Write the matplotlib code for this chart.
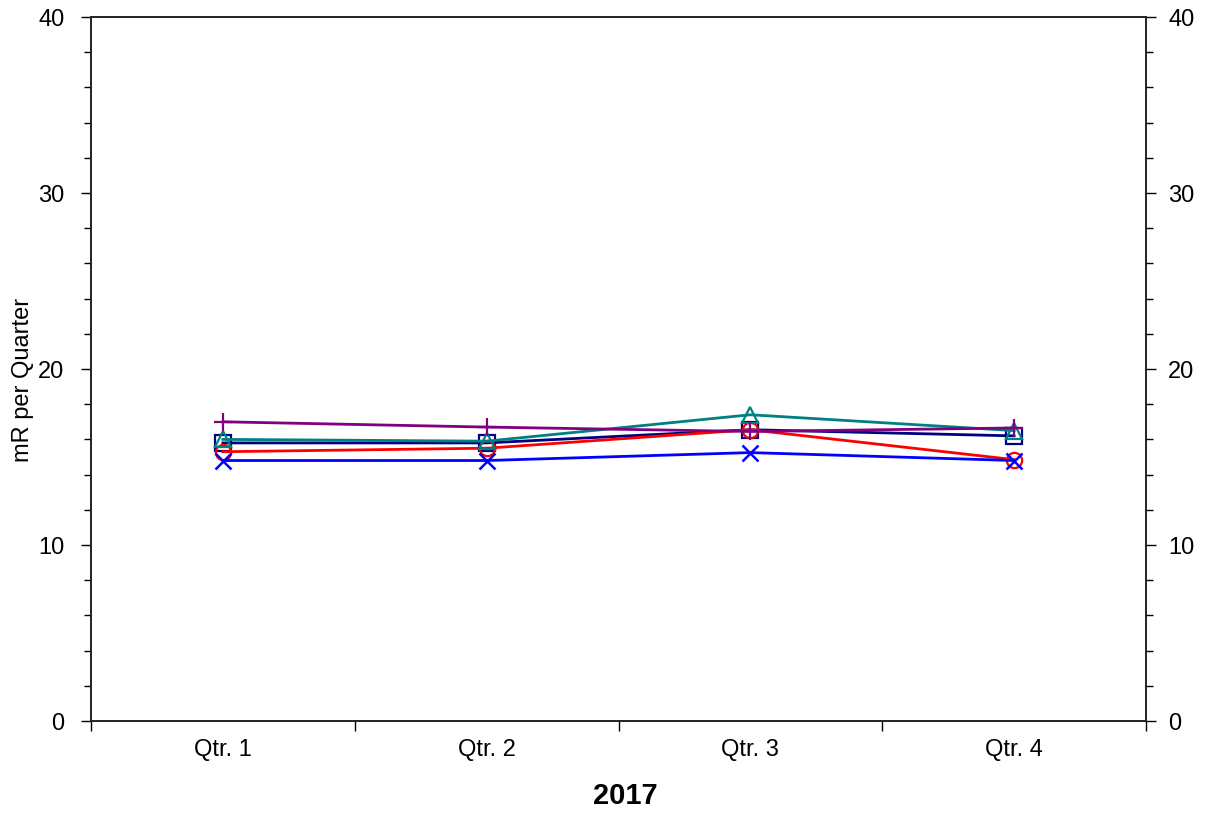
import matplotlib
matplotlib.use("Agg")
import matplotlib.pyplot as plt
from matplotlib.ticker import MultipleLocator, FixedLocator

plt.rcParams['font.family'] = ['Liberation Sans', 'DejaVu Sans']

categories = ["Qtr. 1", "Qtr. 2", "Qtr. 3", "Qtr. 4"]
navy_sq = [15.8, 15.8, 16.55, 16.2]
red_circ = [15.3, 15.5, 16.55, 14.85]
teal_tri = [16.0, 15.9, 17.4, 16.5]
blue_x = [14.8, 14.8, 15.25, 14.8]
purple_plus = [17.0, 16.7, 16.45, 16.65]
xlabel = "2017"
ylabel = "mR per Quarter"

fig = plt.figure(figsize=(12.06, 8.14), dpi=100)
ax = fig.add_axes([91/1206, 1 - 721/814, (1146-91)/1206, (721-17)/814])

x = list(range(len(categories)))
ax.plot(x, navy_sq, color='#000080', lw=2, marker='s', ms=11, mfc='none', mew=1.6, zorder=3)
ax.plot(x, red_circ, color='#ff0000', lw=2, marker='o', ms=11, mfc='none', mew=1.6, zorder=3)
ax.plot(x, teal_tri, color='#008080', lw=2, marker='^', ms=12, mfc='none', mew=1.6, zorder=3)
ax.plot(x, blue_x, color='#0000ff', lw=2, marker='x', ms=11, mew=1.8, zorder=3)
ax.plot(x, purple_plus, color='#800080', lw=2, marker='+', ms=13, mew=1.6, zorder=4)

ax.set_xlim(-0.5, len(categories) - 0.5)
ax.set_ylim(0, 40)
ax.yaxis.set_major_locator(MultipleLocator(10))
ax.yaxis.set_minor_locator(MultipleLocator(2))
ax.set_xticks(x)
ax.set_xticklabels(categories)
ax.xaxis.set_minor_locator(FixedLocator([i - 0.5 for i in range(len(categories) + 1)]))
ax.tick_params(axis='x', which='major', length=0, labelsize=17, pad=13)
ax.tick_params(axis='x', which='minor', length=7, width=1, direction='out')
ax.tick_params(axis='y', which='major', length=7, width=1, direction='out', labelsize=17,
               left=True, right=False, labelleft=True, labelright=False, pad=12)
ax.tick_params(axis='y', which='minor', length=5, width=1, direction='out', left=True, right=False)

ax2 = ax.twinx()
ax2.set_ylim(0, 40)
ax2.yaxis.set_major_locator(MultipleLocator(10))
ax2.yaxis.set_minor_locator(MultipleLocator(2))
ax2.tick_params(axis='y', which='major', length=7, width=1, direction='out', labelsize=17, pad=9)
ax2.tick_params(axis='y', which='minor', length=5, width=1, direction='out')

for a in (ax, ax2):
    for s in a.spines.values():
        s.set_linewidth(1.2)
        s.set_color('#222222')

fig.text(23/1206, 1 - 380/814, ylabel, rotation=90, ha='center', va='center', fontsize=17)
ax.set_xlabel(xlabel, fontsize=21, fontweight='bold', labelpad=14)
ax.xaxis.set_label_coords((625 - 91) / 1055, -0.09)
ax.xaxis.label.set_va('center')
ax.xaxis.set_label_coords((625 - 91) / 1055, -(796 - 721) / 704)

fig.savefig("out.png", dpi=100)
